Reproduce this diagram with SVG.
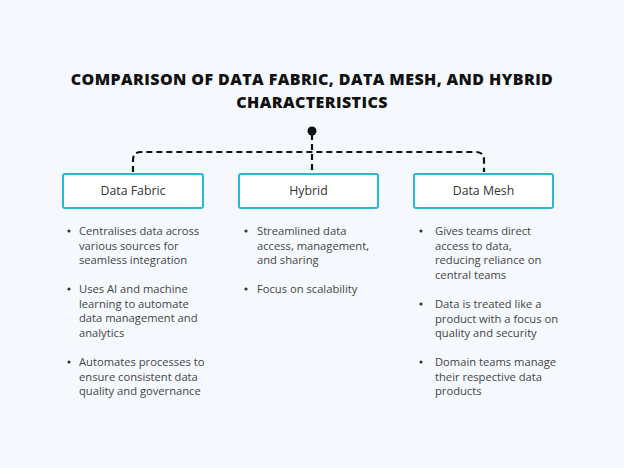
<svg xmlns="http://www.w3.org/2000/svg" width="624" height="468" viewBox="0 0 624 468">
<style>
.title{font-family:"Open Sans","Liberation Sans",sans-serif;font-weight:800;font-size:16px;fill:#111;text-anchor:middle;letter-spacing:0.4px}
.box{fill:#fff;stroke:#2bb5d8;stroke-width:2}
.lbl{font-family:"Open Sans","Liberation Sans",sans-serif;font-size:12.3px;fill:#333;text-anchor:middle}
.txt{font-family:"Open Sans","Liberation Sans",sans-serif;font-size:11.2px;fill:#444}
.dot{fill:#333}
.conn{fill:none;stroke:#111;stroke-width:2.2;stroke-dasharray:6,4}
</style>
<rect width="624" height="468" fill="#f5f9fe"/>
<text class="title" x="312" y="85">COMPARISON OF DATA FABRIC, DATA MESH, AND HYBRID</text>
<text class="title" x="312" y="108">CHARACTERISTICS</text>
<g id="connectors">
<circle cx="312" cy="131" r="4.5" fill="#111"/>
<path class="conn" d="M312 134 V172"/>
<path class="conn" d="M133 172 V160 Q133 152 141 152 H476 Q484 152 484 160 V172"/>
</g>
<g id="data-fabric">
<rect class="box" x="63" y="174" width="140" height="34" rx="2"/>
<text class="lbl" x="133" y="195">Data Fabric</text>
<circle class="dot" cx="69" cy="231" r="1.6"/>
<text class="txt" x="79" y="235">Centralises data across</text>
<text class="txt" x="79" y="249.5">various sources for</text>
<text class="txt" x="79" y="264">seamless integration</text>
<circle class="dot" cx="69" cy="289" r="1.6"/>
<text class="txt" x="79" y="293">Uses AI and machine</text>
<text class="txt" x="79" y="307.5">learning to automate</text>
<text class="txt" x="79" y="322">data management and</text>
<text class="txt" x="79" y="336.5">analytics</text>
<circle class="dot" cx="69" cy="362" r="1.6"/>
<text class="txt" x="79" y="366">Automates processes to</text>
<text class="txt" x="79" y="380.5">ensure consistent data</text>
<text class="txt" x="79" y="395">quality and governance</text>
</g>
<g id="hybrid">
<rect class="box" x="239" y="174" width="139" height="34" rx="2"/>
<text class="lbl" x="308.5" y="195">Hybrid</text>
<circle class="dot" cx="246" cy="231" r="1.6"/>
<text class="txt" x="257" y="235">Streamlined data</text>
<text class="txt" x="257" y="249.5">access, management,</text>
<text class="txt" x="257" y="264">and sharing</text>
<circle class="dot" cx="246" cy="289" r="1.6"/>
<text class="txt" x="257" y="293">Focus on scalability</text>
</g>
<g id="data-mesh">
<rect class="box" x="414" y="174" width="139" height="34" rx="2"/>
<text class="lbl" x="483.5" y="195">Data Mesh</text>
<circle class="dot" cx="421" cy="231" r="1.6"/>
<text class="txt" x="435" y="235">Gives teams direct</text>
<text class="txt" x="435" y="249.5">access to data,</text>
<text class="txt" x="435" y="264">reducing reliance on</text>
<text class="txt" x="435" y="278.5">central teams</text>
<circle class="dot" cx="421" cy="304" r="1.6"/>
<text class="txt" x="435" y="308">Data is treated like a</text>
<text class="txt" x="435" y="322.5">product with a focus on</text>
<text class="txt" x="435" y="337">quality and security</text>
<circle class="dot" cx="421" cy="362" r="1.6"/>
<text class="txt" x="435" y="366">Domain teams manage</text>
<text class="txt" x="435" y="380.5">their respective data</text>
<text class="txt" x="435" y="395">products</text>
</g>
</svg>
